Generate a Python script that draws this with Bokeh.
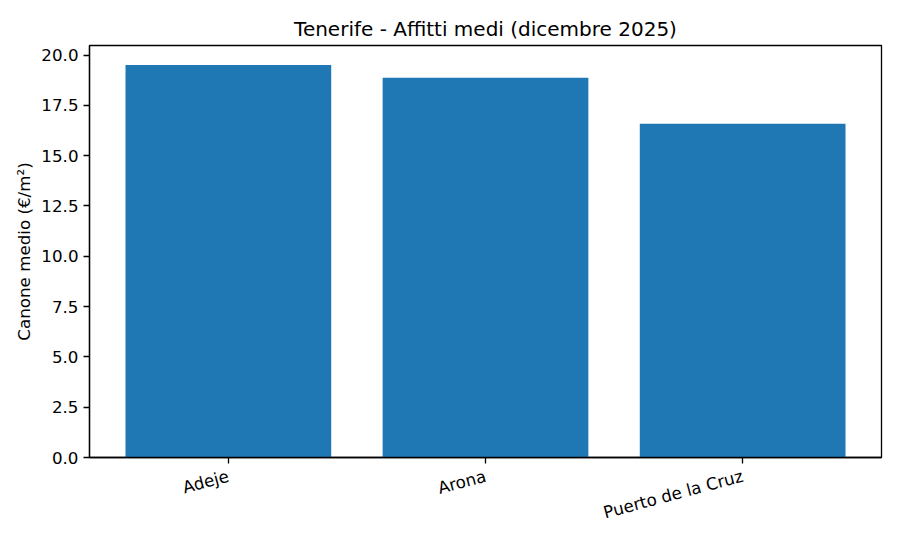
import math
from bokeh.plotting import figure
from bokeh.models import Range1d, FixedTicker, NumeralTickFormatter
from bokeh.embed import file_html
from bokeh.resources import INLINE

categories = ["Adeje", "Arona", "Puerto de la Cruz"]
values = [19.50, 18.87, 16.59]
y_ticks = [0, 2.5, 5, 7.5, 10, 12.5, 15, 17.5, 20]

xs = list(range(len(categories)))

p = figure(output_backend="svg", toolbar_location=None,
           frame_width=792, frame_height=412,
           min_border_left=89, min_border_right=11,
           min_border_top=45, min_border_bottom=75,
           x_range=Range1d(-0.54, 2.54), y_range=Range1d(0, 20.475),
           title="Tenerife - Affitti medi (dicembre 2025)")

p.vbar(x=xs, top=values, width=0.8, color="#1f77b4", line_color=None)

p.title.align = "center"
p.title.text_font = "DejaVu Sans"
p.title.text_font_size = "20px"
p.title.text_font_style = "normal"
p.title.text_color = "black"

p.grid.visible = False
p.outline_line_color = "black"
p.outline_line_width = 1.3
p.outline_line_alpha = 1

for ax in (p.xaxis[0], p.yaxis[0]):
    ax.axis_line_color = "black"
    ax.axis_line_width = 1.3
    ax.major_tick_line_color = "black"
    ax.major_tick_line_width = 1.3
    ax.major_tick_out = 6
    ax.major_tick_in = 0
    ax.minor_tick_line_color = None
    ax.major_label_text_font = "DejaVu Sans"
    ax.major_label_text_font_size = "16.7px"
    ax.major_label_text_color = "black"
    ax.major_label_standoff = 5

p.xaxis[0].ticker = FixedTicker(ticks=xs)
p.xaxis[0].major_label_overrides = {i: c for i, c in zip(xs, categories)}
p.xaxis[0].major_label_orientation = math.pi / 12
p.xaxis[0].major_label_standoff = 12

p.yaxis[0].ticker = FixedTicker(ticks=y_ticks)
p.yaxis[0].formatter = NumeralTickFormatter(format="0.0")
p.yaxis[0].axis_label = "Canone medio (€/m²)"
p.yaxis[0].axis_label_text_font = "DejaVu Sans"
p.yaxis[0].axis_label_text_font_size = "16.7px"
p.yaxis[0].axis_label_text_font_style = "normal"
p.yaxis[0].axis_label_text_color = "black"
p.yaxis[0].axis_label_standoff = 4

open("out.html", "w").write(file_html(p, INLINE))
